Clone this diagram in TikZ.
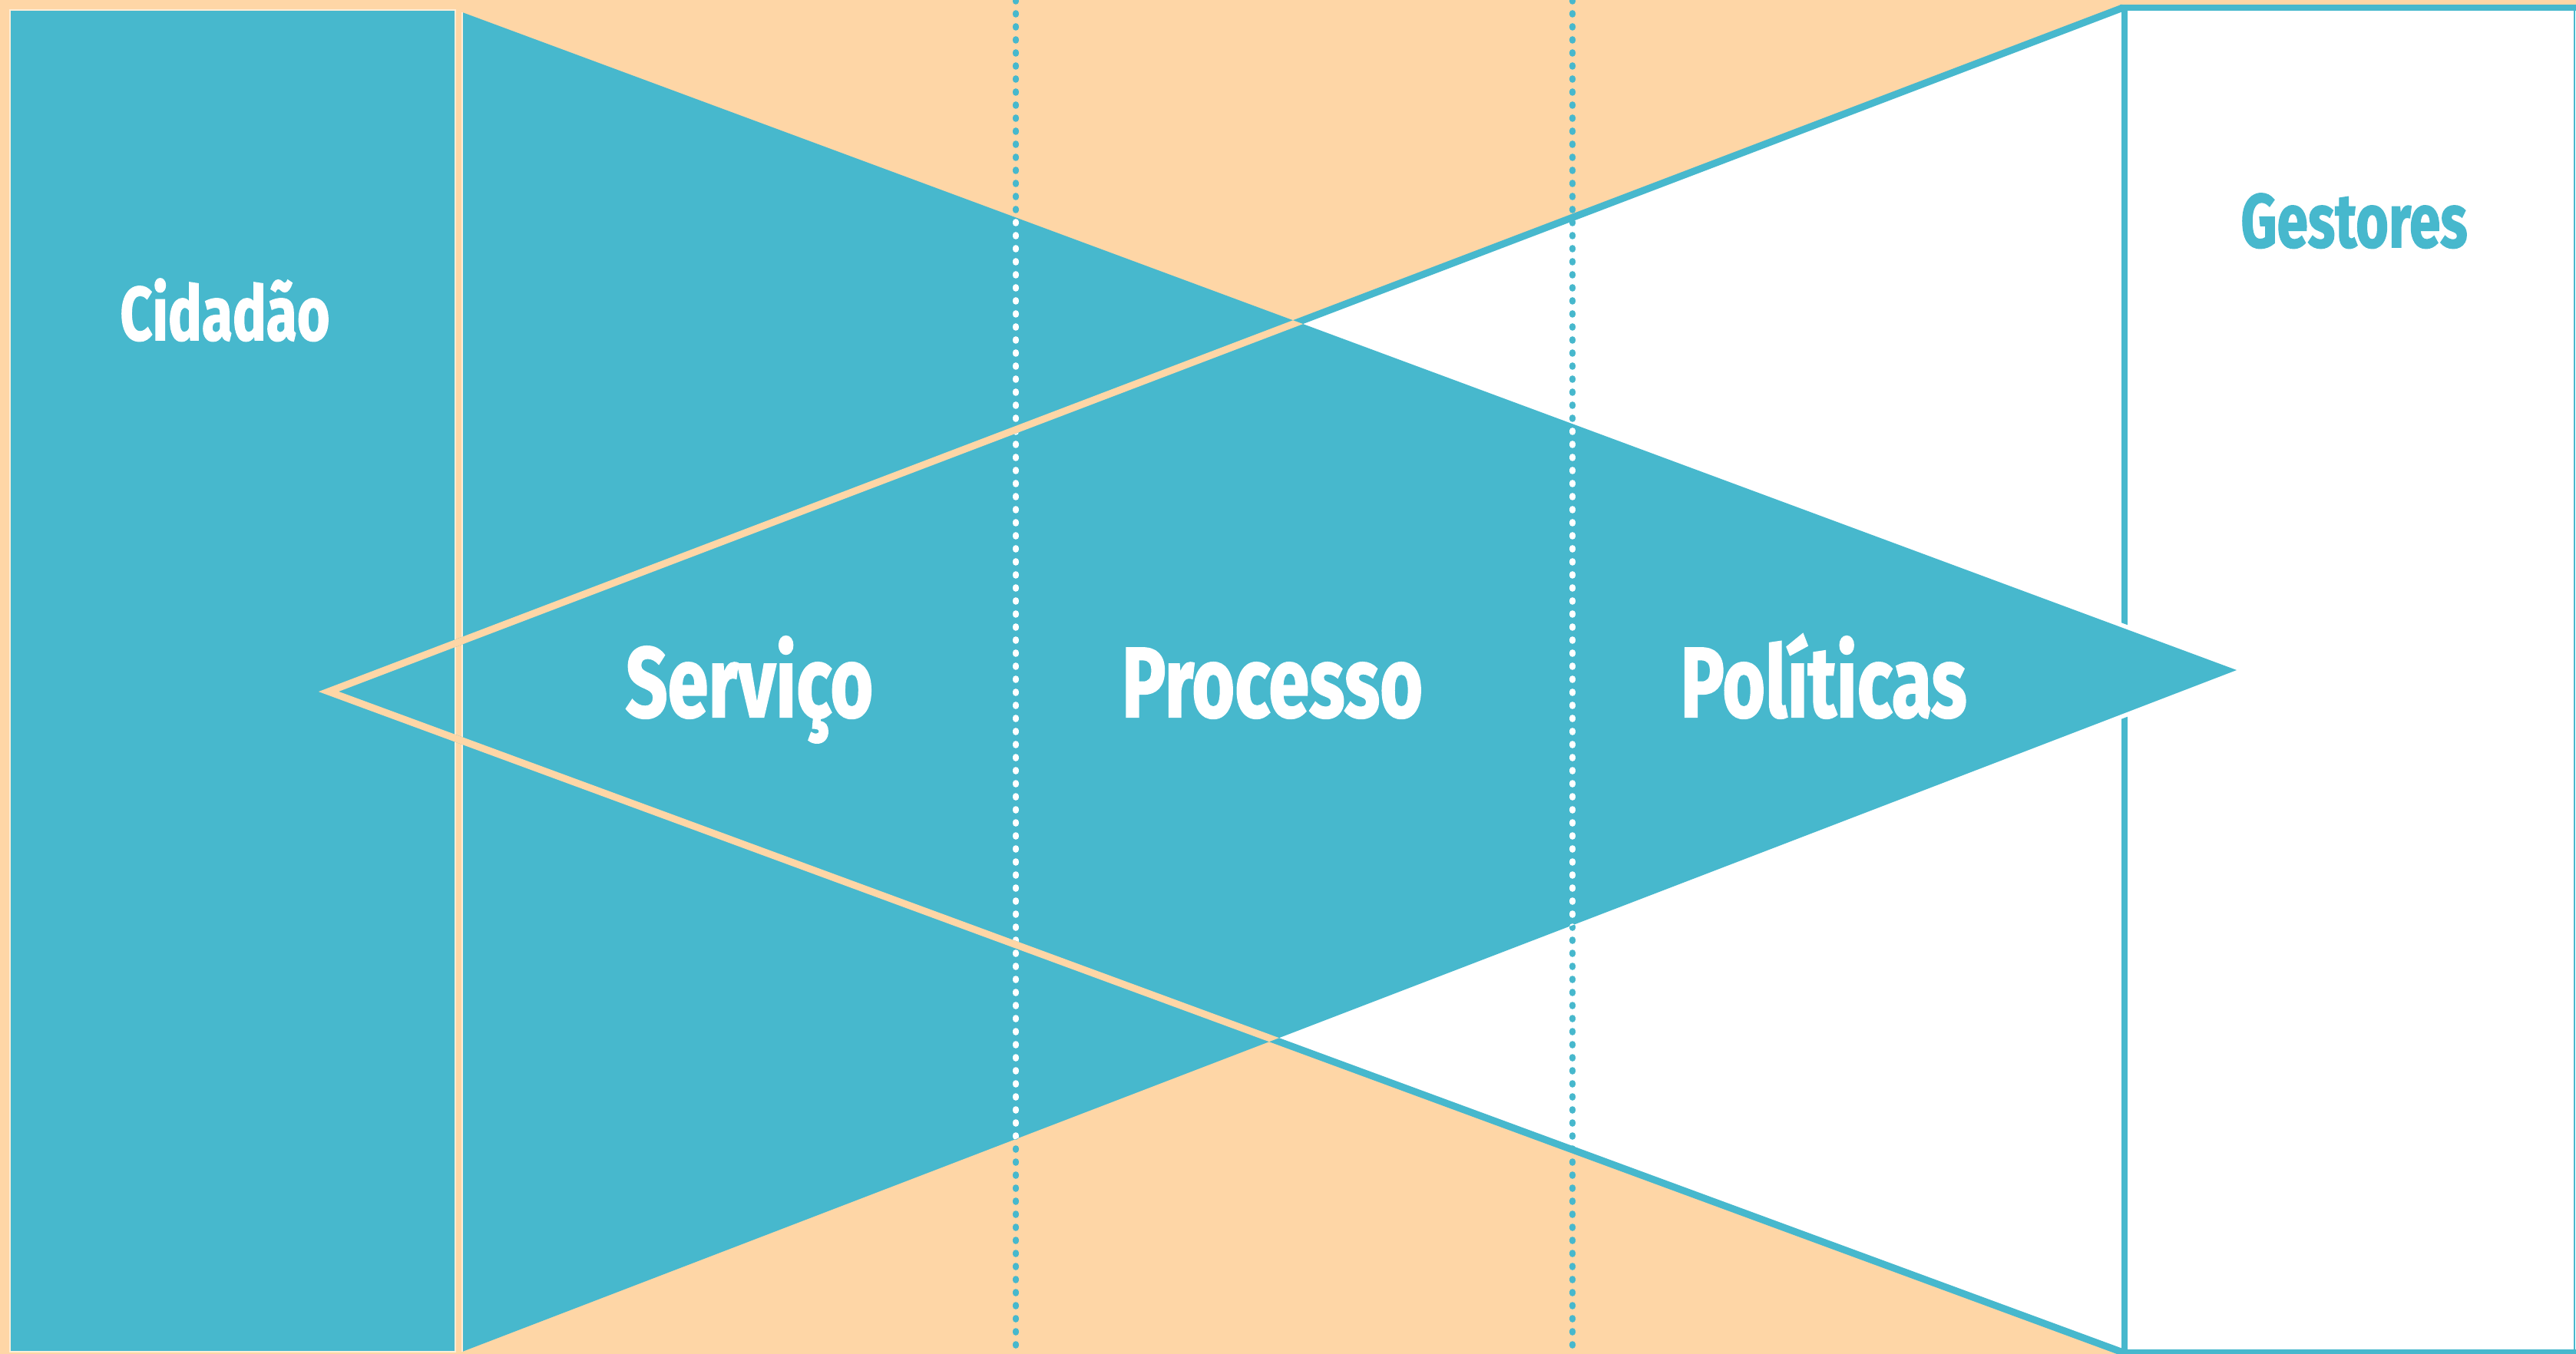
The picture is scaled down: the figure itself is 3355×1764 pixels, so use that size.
\documentclass[tikz,border=0pt]{standalone}
\usepackage{fontspec}
\setmainfont{Fira Sans}
\newfontfamily\labfont{Fira Sans}[BoldFeatures={FakeBold=1.6}]
\definecolor{tealc}{RGB}{71,184,205}
\definecolor{peachc}{RGB}{254,214,166}
\newcommand{\narrow}[1]{\scalebox{0.74}[1]{#1}}
\tikzset{
  boxlab/.style={font=\labfont\bfseries\fontsize{24.7pt}{28pt}\selectfont, anchor=base, inner sep=0pt},
  biglab/.style={font=\labfont\bfseries\fontsize{32.4pt}{36pt}\selectfont, text=white, anchor=base, inner sep=0pt},
  outline/.style={line width=2.3pt, line join=miter},
  dotline/.style={line width=1.9pt, line cap=round, dash pattern=on 0.5pt off 3.75pt},
}
\begin{document}
\begin{tikzpicture}[x=0.25pt,y=-0.25pt]
\useasboundingbox (0,0) rectangle (3355,1764);
\fill[peachc] (0,0) rectangle (3355,1764);
% key points
\coordinate (wa) at (428,901);
\coordinate (wt) at (2765,10);
\coordinate (wb) at (2765,1762);
\coordinate (tt) at (602,16);
\coordinate (tb) at (602,1761);
\coordinate (tp) at (2913,873);
% white triangle and right box
\fill[white] (wa) -- (wt) -- (wb) -- cycle;
\fill[peachc] (590,0) rectangle (604,1764);
\fill[white] (2765,10) rectangle (3355,1762);
\draw[tealc, line width=2pt] (2761,10) -- (3360,10);
\draw[tealc, line width=2pt] (2761,1762) -- (3360,1762);
\draw[tealc, line width=0.6pt] (3353,10) -- (3353,1762);
\draw[tealc, line width=2pt] (2767,6) -- (2767,1764);
% left box
\fill[tealc, draw=peachc!45!white, line width=0.5pt] (13,13) rectangle (593,1761);
% teal triangle with white halo near the right box line
\begin{scope}
  \clip (2720,0) rectangle (2820,1764);
  \draw[white, line width=2.8pt] (tt) -- (tp) -- (tb) -- cycle;
\end{scope}
\fill[tealc] (tt) -- (tp) -- (tb) -- cycle;
\draw[peachc!45!white, line width=0.5pt] (tt) -- (tb);
% dotted dividers
\coordinate (d1t) at (1323,0); \coordinate (d1b) at (1323,1764);
\coordinate (d2t) at (2048,0); \coordinate (d2b) at (2048,1764);
\draw[tealc, dotline] (d1t) -- (d1b);
\draw[tealc, dotline] (d2t) -- (d2b);
\begin{scope}
  \clip (tt) -- (tp) -- (tb) -- cycle;
  \draw[white, dotline] (d1t) -- (d1b);
  \draw[white, dotline] (d2t) -- (d2b);
\end{scope}
% outline of the left-pointing triangle
\draw[tealc, outline] (wb) -- (wa) -- (wt);
\begin{scope}
  \clip (0,0) rectangle (603,1764);
  \draw[peachc, outline] (wb) -- (wa) -- (wt);
\end{scope}
\begin{scope}
  \clip (tt) -- (tp) -- (tb) -- cycle;
  \draw[peachc, outline] (wb) -- (wa) -- (wt);
\end{scope}
% labels
\node[boxlab, text=white] (cid) at (293,443) {\narrow{Cidadão}};
\node[boxlab, text=tealc] (ges) at (3066,322) {\narrow{Gestores}};
\node[biglab] (srv) at (976,934) {\narrow{Serviço}};
\node[biglab] (prc) at (1657,934) {\narrow{Processo}};
\node[biglab] (pol) at (2375,934) {\narrow{Políticas}};
\end{tikzpicture}
\end{document}
